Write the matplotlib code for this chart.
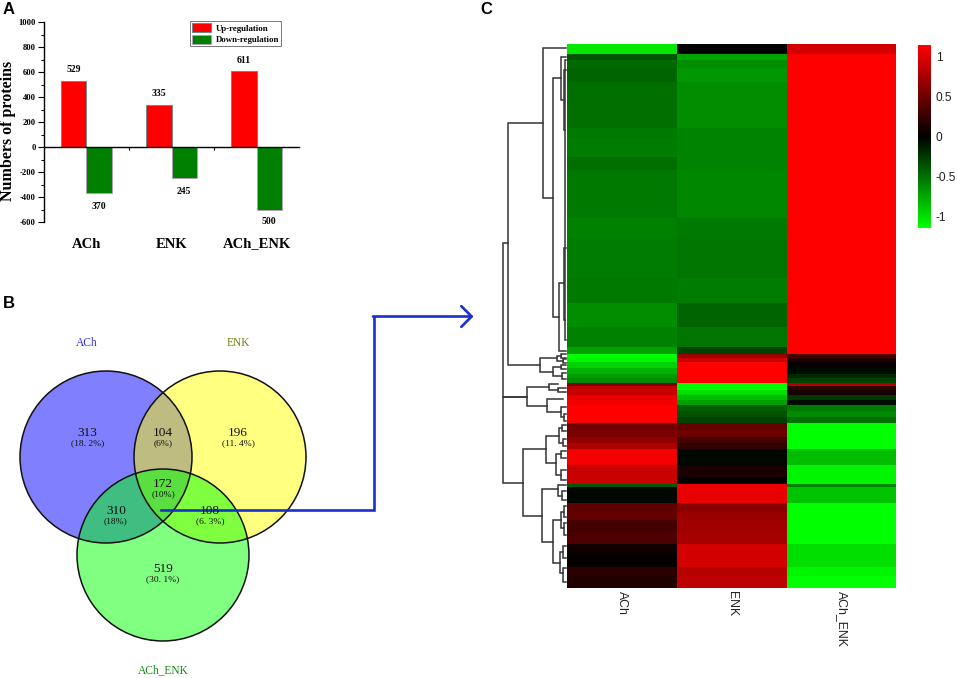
import numpy as np
import matplotlib
matplotlib.use("Agg")
import matplotlib.pyplot as plt
from matplotlib.colors import LinearSegmentedColormap
from matplotlib.patches import Circle, Polygon

W, H = 957, 678

# ---------- Panel A ----------
groups = ["ACh", "ENK", "ACh_ENK"]
up_values = [529, 335, 611]
down_values = [-370, -245, -500]
up_label_offset = [95, 97, 81]
down_label_offset = [-102, -107, -92]
bar_series = ["Up-regulation", "Down-regulation"]
yticks = [-600, -400, -200, 0, 200, 400, 600, 800, 1000]

# ---------- Panel B ----------
venn_names = ["ACh", "ENK", "ACh_ENK"]
venn_name_colors = ["#3030ee", "#7d7d10", "#118a11"]
venn_circles = [(106, 457, 86), (220, 457, 86), (163, 555, 86)]
venn_fill = ["#8080ff", "#ffff80", "#80ff80"]
venn_pair_fill = {(0, 1): "#bebc80", (0, 2): "#40bd80", (1, 2): "#80ff40"}
venn_triple_fill = "#5ade40"
venn_counts = ["313", "104", "196", "172", "310", "108", "519"]
venn_pcts = ["(18. 2%)", "(6%)", "(11. 4%)", "(10%)", "(18%)", "(6. 3%)", "(30. 1%)"]
venn_xy = [(87.5, 433), (163, 433), (238, 433), (163, 484), (116, 510.5), (210, 510.5), (163, 569)]

# ---------- Panel C ----------
row_edges = [44, 53.5, 60, 68, 82, 128, 138, 157, 170, 218, 237, 278, 303, 327, 347, 354,
             358, 362, 368, 374, 378, 382.5, 386, 390, 395, 400, 405, 411, 417, 423,
             430, 437, 443, 449, 465, 477, 484, 487, 503, 512, 520, 532, 544, 553, 567, 576, 588]
heat_ach = [-1.04, -.38, -.47, -.45, -.50, -.54, -.56, -.50, -.54, -.58, -.56, -.54, -.63, -.58, -.72,
            -1.15, -1.10, -.95, -.80, -.70, -.62, .55, .85, .90, 1.05, 1.10, 1.2, 1.2, 1.2,
            .50, .55, .65, .78, 1.10, .90, .90, -.40, -.03, .42, .45, .30, .35, .08, .02, .20, .15]
heat_enk = [0, -.74, -.63, -.68, -.63, -.59, -.59, -.59, -.61, -.54, -.53, -.56, -.45, -.53, -.30,
            .72, .90, 1.2, 1.2, 1.2, 1.2, -1.15, -1.15, -1.0, -.85, -.72, -.42, -.36, -.30,
            .45, .50, .30, .22, -.03, .12, .02, 1.05, 1.05, .62, .70, .72, .75, .95, .95, .82, .85]
heat_both = [.95, 1.2, 1.2, 1.2, 1.2, 1.2, 1.2, 1.2, 1.2, 1.2, 1.2, 1.2, 1.2, 1.2, 1.2,
             .35, .15, .03, -.05, -.18, -.30, .80, .20, .10, -.25, -.05, -.55, -.62, -.50,
             -1.2, -1.2, -1.2, -1.2, -.85, -1.1, -1.1, -.60, -.88, -1.2, -1.2, -1.2, -1.15, -1.0, -1.0, -1.1, -1.15]
cbar_ticks = [-1, -0.5, 0, 0.5, 1]
cbar_labels = ["-1", "-0.5", "0", "0.5", "1"]

# dendrogram merges: (merge height, upper branch y, upper child height, lower branch y, lower child height)
dendro_links = [
    (502.5, 243, 508, 396.7, 527), (502.5, 396.7, 527, 483, 523),
    (508, 122.7, 543, 365, 540),
    (543, 48, 566, 197.7, 553),
    (553, 78, 561, 317, 559),
    (561, 56.7, 566, 100, 563.5), (563.5, 70, 566, 130, 565),
    (559, 283, 564, 350.7, 566), (564, 248, 566, 320, 565), (565, 60, 566, 340, 566),
    (540, 358, 557, 372, 553),
    (557, 356, 561, 360.7, 563), (561, 354, 566, 358, 566), (563, 359, 566, 363, 566),
    (553, 367, 561, 376, 562), (561, 365, 566, 369, 566), (562, 373, 566, 379, 566),
    (527, 386.7, 549, 406, 547),
    (549, 384, 558, 390, 558), (558, 388, 566, 392, 566),
    (547, 399, 563, 411.7, 561), (561, 407, 566, 417, 564), (564, 414, 566, 421, 566),
    (523, 449.3, 545.5, 515.7, 542),
    (545.5, 436, 559, 463, 556),
    (559, 428, 562, 443, 563), (562, 425, 566, 431, 566), (563, 439, 566, 446, 566),
    (556, 454, 561, 475, 561), (561, 451, 566, 458, 566), (561, 470, 566, 480, 566),
    (542, 489, 558, 541.7, 552.5),
    (558, 485, 566, 495.7, 562), (562, 491, 566, 500, 566),
    (552.5, 520, 561, 563.3, 559.7),
    (561, 511.7, 564, 528, 564), (564, 506, 566, 517, 566), (564, 523, 566, 535, 566),
    (559.7, 552, 563, 573, 563), (563, 546, 566, 558, 566), (563, 568, 566, 582, 566),
]

SERIF = "Liberation Serif"
SANS = "Liberation Sans"


def axes_px(x0, y0, x1, y1, **kw):
    return fig.add_axes([x0 / W, 1 - y1 / H, (x1 - x0) / W, (y1 - y0) / H], **kw)


fig = plt.figure(figsize=(W / 100, H / 100), dpi=100, facecolor="white")

# ---------- Bars ----------
ax = axes_px(44, 22, 299, 222)
pos = np.arange(1, len(groups) + 1)
bw = 0.3
ax.bar(pos - bw / 2, up_values, bw, color="#ff0000", edgecolor="#4f8f8f", linewidth=0.6, label=bar_series[0])
ax.bar(pos + bw / 2, down_values, bw, color="#008000", edgecolor="#b89ab8", linewidth=0.6, label=bar_series[1])
ax.set_xlim(0.5, 3.5)
ax.set_ylim(-600, 1000)
for s in ("top", "right"):
    ax.spines[s].set_visible(False)
ax.spines["bottom"].set_position(("data", 0))
ax.spines["bottom"].set_linewidth(1.0)
ax.spines["left"].set_linewidth(1.0)
ax.set_xticks([1.5, 2.5])
ax.set_xticklabels([])
ax.tick_params(axis="x", length=2, width=0.8)
ax.set_yticks(yticks)
ax.set_yticks(np.arange(-500, 1000, 200), minor=True)
ax.tick_params(axis="y", which="major", length=4, width=0.8, pad=2)
ax.tick_params(axis="y", which="minor", length=2, width=0.7)
ax.set_yticklabels([str(t) for t in yticks], fontfamily=SERIF, fontweight="bold", fontsize=6.2)
ylab = ax.set_ylabel("Numbers of proteins", fontfamily=SERIF, fontweight="bold", fontsize=11.5, va="center")
ax.yaxis.set_label_coords(-0.141, 0.455)
for i, g in enumerate(groups):
    ax.text(pos[i], -776, g, ha="center", va="center", fontfamily=SERIF, fontweight="bold",
            fontsize=10.5, clip_on=False)
    ax.text(pos[i] - bw / 2, up_values[i] + up_label_offset[i], str(up_values[i]), ha="center", va="center",
            fontfamily=SERIF, fontweight="bold", fontsize=7)
    ax.text(pos[i] + bw / 2, down_values[i] + down_label_offset[i], str(-down_values[i]), ha="center", va="center",
            fontfamily=SERIF, fontweight="bold", fontsize=7, clip_on=False)
leg = ax.legend(loc="upper left", bbox_to_anchor=((190 - 44) / 255, 1.005), borderaxespad=0, fancybox=False,
                edgecolor="#777777", framealpha=1, prop={"family": SERIF, "weight": "bold", "size": 6.3},
                handlelength=2.2, handleheight=1.25, labelspacing=0.2, borderpad=0.25, handletextpad=0.5)
leg.get_frame().set_linewidth(0.7)

# ---------- Overlay: Venn, arrow, panel letters ----------
ov = axes_px(0, 0, W, H)
ov.set_xlim(0, W)
ov.set_ylim(H, 0)
ov.axis("off")
ov.patch.set_alpha(0)


def overlap(ids):
    """Convex outline shared by the given circles."""
    theta = np.linspace(0, 2 * np.pi, 1440, endpoint=False)
    pts = []
    for i in ids:
        cx, cy, r = venn_circles[i]
        p = np.c_[cx + r * np.cos(theta), cy + r * np.sin(theta)]
        for j in ids:
            if j != i:
                qx, qy, qr = venn_circles[j]
                p = p[np.hypot(p[:, 0] - qx, p[:, 1] - qy) <= qr]
        pts.append(p)
    pts = np.vstack(pts)
    c = pts.mean(axis=0)
    return pts[np.argsort(np.arctan2(pts[:, 1] - c[1], pts[:, 0] - c[0]))]


for (cx, cy, r), col in zip(venn_circles, venn_fill):
    ov.add_patch(Circle((cx, cy), r, facecolor=col, edgecolor="none"))
for ids, col in venn_pair_fill.items():
    ov.add_patch(Polygon(overlap(ids), closed=True, facecolor=col, edgecolor="none"))
ov.add_patch(Polygon(overlap((0, 1, 2)), closed=True, facecolor=venn_triple_fill, edgecolor="none"))
for cx, cy, r in venn_circles:
    ov.add_patch(Circle((cx, cy), r, facecolor="none", edgecolor="#111111", linewidth=1.1))
for (x, y), n, p in zip(venn_xy, venn_counts, venn_pcts):
    ov.text(x, y, n, ha="center", va="center", fontfamily=SERIF, fontsize=9.5, color="#111111")
    ov.text(x, y + 10.5, p, ha="center", va="center", fontfamily=SERIF, fontsize=6.8, color="#111111")
for name, col, xy in zip(venn_names, venn_name_colors, [(87, 343), (238, 343), (163, 670)]):
    ov.text(*xy, name, ha="center", va="center", fontfamily=SERIF, fontsize=8.3, color=col)

blue = "#1a2fd0"
ov.plot([161, 374, 374], [510, 510, 316.5], color=blue, lw=1.9, solid_joinstyle="miter")
ov.annotate("", xy=(473.5, 316.5), xytext=(373, 316.5),
            arrowprops=dict(arrowstyle="->,head_length=0.62,head_width=0.62", color=blue, lw=1.9,
                            shrinkA=0, shrinkB=0, mutation_scale=12))
for t, xy in zip("ABC", [(8.5, 10), (8.5, 304), (486.5, 9.5)]):
    ov.text(*xy, t, ha="center", va="center", fontfamily=SANS, fontweight="bold", fontsize=12)

# ---------- Heatmap ----------
cmap = LinearSegmentedColormap.from_list("gbr", ["#00ff00", "#000000", "#ff0000"])
vmin, vmax = -1.15, 1.15
hm = axes_px(566.7, 44, 896.5, 588)
matrix = np.array([heat_ach, heat_enk, heat_both]).T
mesh = hm.pcolormesh([0, 1, 2, 3], row_edges, matrix, cmap=cmap, vmin=vmin, vmax=vmax, rasterized=True)
hm.set_xlim(0, 3)
hm.set_ylim(588, 44)
hm.set_yticks([])
hm.set_xticks([0.5, 1.5, 2.5])
hm.set_xticklabels(groups, rotation=270, fontfamily=SANS, fontsize=8.8, color="#222222", va="top", ha="center")
hm.tick_params(axis="x", length=0, pad=2.5)
for s in hm.spines.values():
    s.set_visible(False)

# ---------- Dendrogram ----------
dn = axes_px(495, 44, 566.7, 588)
dn.set_xlim(495, 566.7)
dn.set_ylim(588, 44)
dn.axis("off")
for h, y0, c0, y1, c1 in dendro_links:
    dn.plot([c0, h, h, c1], [y0, y0, y1, y1], color="#333333", lw=1.1, clip_on=False, solid_joinstyle="miter")

# ---------- Colour bar ----------
cax = axes_px(918, 44, 931, 228)
grad = fig.colorbar(mesh, cax=cax, ticks=cbar_ticks)
grad.ax.set_ylim(-1.15, 1.16)
grad.set_ticklabels(cbar_labels, fontfamily=SANS, fontsize=8.6, color="#222222")
grad.ax.tick_params(length=0, pad=3.5)
grad.outline.set_visible(False)

fig.savefig("out.png", dpi=100)
